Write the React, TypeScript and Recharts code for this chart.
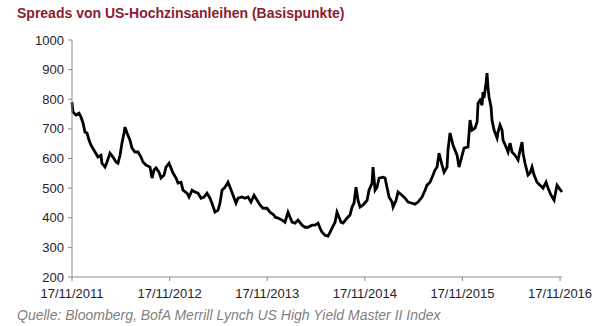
import { LineChart, Line, XAxis, YAxis } from "recharts";

// Zeit als Dezimaljahr (17/11/2011 ≈ 2011.88)
const years = [
  2011.88, 2011.89, 2011.921, 2011.952, 2011.972, 2011.993, 2012.013, 2012.034, 2012.054, 2012.075,
  2012.116, 2012.146, 2012.177, 2012.187, 2012.218, 2012.239, 2012.269, 2012.3, 2012.331, 2012.351,
  2012.372, 2012.392, 2012.413, 2012.423, 2012.444, 2012.474, 2012.495, 2012.525, 2012.556, 2012.587,
  2012.607, 2012.638, 2012.679, 2012.7, 2012.72, 2012.741, 2012.771, 2012.792, 2012.823, 2012.843,
  2012.874, 2012.894, 2012.915, 2012.946, 2012.966, 2012.997, 2013.017, 2013.058, 2013.079, 2013.11,
  2013.14, 2013.171, 2013.202, 2013.232, 2013.263, 2013.294, 2013.314, 2013.345, 2013.376, 2013.396,
  2013.417, 2013.448, 2013.478, 2013.499, 2013.53, 2013.56, 2013.581, 2013.622, 2013.653, 2013.683,
  2013.714, 2013.745, 2013.776, 2013.806, 2013.837, 2013.878, 2013.909, 2013.95, 2013.96, 2013.991,
  2014.032, 2014.062, 2014.093, 2014.114, 2014.134, 2014.165, 2014.196, 2014.237, 2014.267, 2014.298,
  2014.339, 2014.37, 2014.401, 2014.421, 2014.442, 2014.472, 2014.503, 2014.523, 2014.544, 2014.575,
  2014.595, 2014.616, 2014.636, 2014.657, 2014.698, 2014.728, 2014.749, 2014.769, 2014.79, 2014.81,
  2014.831, 2014.862, 2014.903, 2014.923, 2014.954, 2014.964, 2014.985, 2015.005, 2015.026, 2015.067,
  2015.087, 2015.107, 2015.128, 2015.159, 2015.169, 2015.2, 2015.22, 2015.261, 2015.292, 2015.323,
  2015.364, 2015.394, 2015.425, 2015.466, 2015.497, 2015.517, 2015.548, 2015.579, 2015.599, 2015.62,
  2015.64, 2015.671, 2015.692, 2015.722, 2015.732, 2015.753, 2015.784, 2015.804, 2015.825, 2015.845,
  2015.876, 2015.896, 2015.937, 2015.958, 2015.978, 2016.009, 2016.03, 2016.04, 2016.06, 2016.081,
  2016.091, 2016.101, 2016.122, 2016.132, 2016.142, 2016.153, 2016.173, 2016.183, 2016.204, 2016.235,
  2016.245, 2016.265, 2016.286, 2016.296, 2016.327, 2016.347, 2016.368, 2016.388, 2016.419, 2016.45,
  2016.47, 2016.491, 2016.501, 2016.521, 2016.552, 2016.573, 2016.593, 2016.614, 2016.644, 2016.675,
  2016.706, 2016.737, 2016.757, 2016.788, 2016.819, 2016.849, 2016.87, 2016.9,
];

// Spreads in Basispunkten
const spreads = [
  790, 757, 747, 753, 740, 720, 689, 686, 662, 645,
  622, 605, 611, 584, 571, 588, 618, 605, 588, 584,
  611, 652, 686, 706, 686, 662, 635, 622, 622, 605,
  588, 578, 571, 534, 561, 568, 554, 534, 544, 571,
  584, 568, 551, 534, 517, 520, 493, 483, 470, 493,
  487, 483, 466, 470, 483, 466, 449, 419, 426, 449,
  493, 503, 520, 503, 476, 449, 466, 470, 466, 470,
  453, 476, 459, 443, 432, 432, 419, 409, 402, 399,
  392, 385, 419, 402, 385, 382, 392, 375, 368, 368,
  375, 375, 382, 365, 351, 341, 338, 351, 365, 385,
  419, 402, 385, 382, 399, 409, 436, 449, 503, 459,
  436, 443, 459, 493, 517, 571, 493, 503, 534, 537,
  534, 503, 470, 453, 436, 459, 487, 476, 466, 453,
  449, 446, 453, 470, 493, 510, 520, 544, 561, 571,
  618, 578, 554, 571, 628, 686, 645, 628, 611, 571,
  610, 635, 639, 730, 696, 703, 723, 787, 797, 780,
  824, 804, 855, 888, 838, 807, 774, 730, 696, 669,
  689, 713, 696, 662, 639, 622, 652, 622, 611, 595,
  628, 655, 618, 584, 544, 551, 571, 544, 520, 510,
  500, 520, 500, 476, 459, 510, 500, 487,
];

const xTicks = [2011.88, 2012.88, 2013.88, 2014.88, 2015.88, 2016.88];
const xTickLabels = ["17/11/2011", "17/11/2012", "17/11/2013", "17/11/2014", "17/11/2015", "17/11/2016"];
const yTicks = [200, 300, 400, 500, 600, 700, 800, 900, 1000];

const data = years.map((t, i) => ({ t, spread: spreads[i] }));

const font = "Arial, 'Liberation Sans', sans-serif";

export default function App() {
  return (
    <div style={{ position: "relative", width: 599, height: 326, background: "#fff", fontFamily: font }}>
      <style>{"body{margin:0}"}</style>
      <div
        style={{
          position: "absolute",
          left: 17,
          top: 5,
          fontSize: 14,
          fontWeight: "bold",
          color: "#8c1c2e",
          whiteSpace: "nowrap",
        }}
      >
        Spreads von US-Hochzinsanleihen (Basispunkte)
      </div>
      <LineChart
        width={599}
        height={326}
        data={data}
        margin={{ top: 40, right: 37, bottom: 19, left: 12 }}
        style={{ position: "absolute", left: 0, top: 0 }}
      >
        <XAxis
          dataKey="t"
          type="number"
          domain={[2011.88, 2016.9]}
          ticks={xTicks}
          tickFormatter={(v, i) => xTickLabels[i] ?? String(v)}
          stroke="#8a8a8a"
          tickSize={4}
          height={30}
          tick={{ fill: "#1e1e2e", fontSize: 13, fontFamily: font }}
          tickMargin={8}
          interval={0}
        />
        <YAxis
          type="number"
          domain={[200, 1000]}
          ticks={yTicks}
          width={60}
          stroke="#8a8a8a"
          tickSize={4}
          tick={{ fill: "#1e1e2e", fontSize: 13, fontFamily: font }}
          tickMargin={4}
          interval={0}
        />
        <Line
          type="linear"
          dataKey="spread"
          stroke="#000"
          strokeWidth={2.8}
          dot={false}
          isAnimationActive={false}
        />
      </LineChart>
      <div
        style={{
          position: "absolute",
          left: 17,
          top: 307,
          fontSize: 14,
          fontStyle: "italic",
          color: "#7f7f7f",
          whiteSpace: "nowrap",
        }}
      >
        Quelle: Bloomberg, BofA Merrill Lynch US High Yield Master II Index
      </div>
    </div>
  );
}
